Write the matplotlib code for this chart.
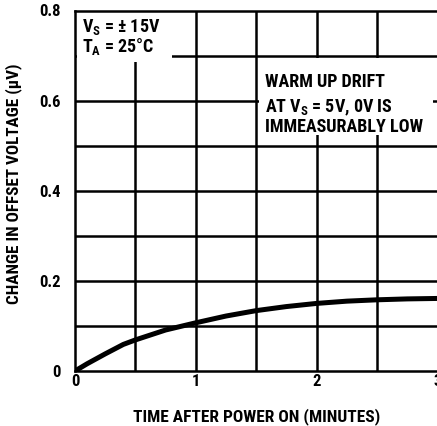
import matplotlib
matplotlib.use("Agg")
import matplotlib.pyplot as plt
from matplotlib.patches import Rectangle

# Data
time_min = [0.0, 0.1, 0.25, 0.4, 0.5, 0.75, 1.0, 1.25, 1.5, 1.75, 2.0, 2.25, 2.5, 2.75, 3.0]
drift_uv = [0.0, 0.016, 0.038, 0.059, 0.069, 0.091, 0.107, 0.122, 0.134, 0.143, 0.150, 0.155, 0.158, 0.160, 0.161]

x_ticks = [0, 1, 2, 3]
x_ticklabels = ["0", "1", "2", "3"]
y_ticks = [0, 0.2, 0.4, 0.6, 0.8]
y_ticklabels = ["0", "0.2", "0.4", "0.6", "0.8"]
x_grid = [0.5, 1.0, 1.5, 2.0, 2.5]
y_grid = [0.1, 0.2, 0.3, 0.4, 0.5, 0.6, 0.7]

FAM = ["Roboto Condensed", "DejaVu Sans"]
plt.rcParams['font.family'] = FAM
plt.rcParams['mathtext.fontset'] = 'custom'
plt.rcParams['mathtext.rm'] = "Roboto Condensed:bold"

fig = plt.figure(figsize=(4.37, 4.26), dpi=100)
ax = fig.add_axes([75 / 437, 1 - 371 / 426, 362.5 / 437, 360.5 / 426])
ax.set_xlim(0, 3)
ax.set_ylim(0, 0.8)

lw = 1.8
for xv in x_grid:
    ax.axvline(xv, color="black", lw=lw, zorder=1)
for yv in y_grid:
    ax.axhline(yv, color="black", lw=lw, zorder=1)

for s in ["left", "bottom", "top"]:
    ax.spines[s].set_linewidth(lw)
ax.spines["right"].set_visible(False)

# white-out boxes for annotations
ax.add_patch(Rectangle((0.02, 0.686), 0.78, 0.11, facecolor="white", edgecolor="none", zorder=2))
ax.add_patch(Rectangle((1.52, 0.524), 1.445, 0.17, facecolor="white", edgecolor="none", zorder=2))

ax.plot(time_min, drift_uv, color="black", lw=3.6, zorder=3, solid_capstyle="butt")

ax.set_xticks(x_ticks)
ax.set_xticklabels(x_ticklabels)
ax.set_yticks(y_ticks)
ax.set_yticklabels(y_ticklabels)
ax.tick_params(length=0, labelsize=12)
ax.tick_params(axis="x", pad=2)
ax.tick_params(axis="y", pad=10)
for lab in ax.get_xticklabels() + ax.get_yticklabels():
    lab.set_fontweight("bold")

ax.set_xlabel("TIME AFTER POWER ON (MINUTES)", fontsize=12.5, fontweight="bold", labelpad=14)
ax.set_ylabel("CHANGE IN OFFSET VOLTAGE (\u03bcV)", fontsize=12.3, fontweight="bold")
ax.yaxis.set_label_coords(-0.146, 0.52)

tk = dict(fontsize=13, fontweight="bold", zorder=4, va="baseline", ha="left")
ax.text(0.058, 0.753, "V$_\\mathregular{S}$ = \u00b1 15V", **tk)
ax.text(0.058, 0.709, "T$_\\mathregular{A}$ = 25\u00b0C", **tk)

ax.text(1.575, 0.631, "WARM UP DRIFT", **tk)
ax.text(1.575, 0.573, "AT V$_\\mathregular{S}$ = 5V, 0V IS", **tk)
ax.text(1.575, 0.531, "IMMEASURABLY LOW", **tk)

fig.savefig("out.png", dpi=100)
